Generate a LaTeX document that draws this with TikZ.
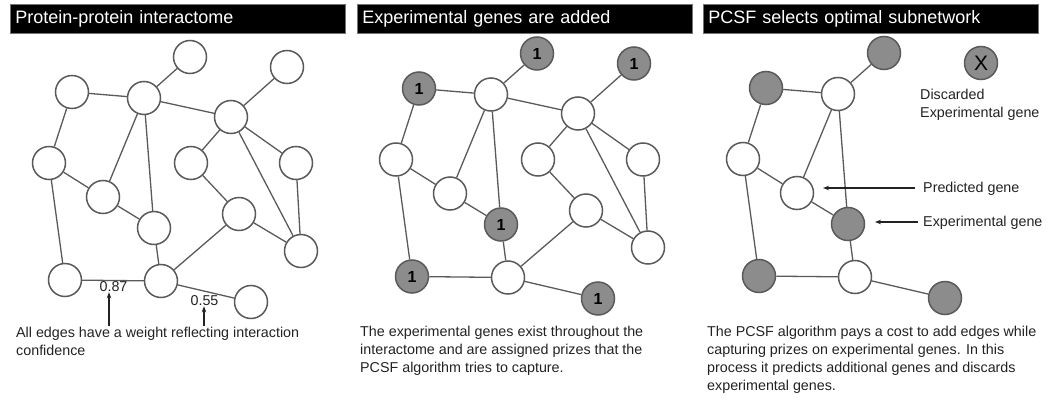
\documentclass[tikz,border=0pt]{standalone}
\usepackage{fontspec}
\setmainfont{Liberation Sans}
\usetikzlibrary{arrows.meta}
\definecolor{edgecol}{HTML}{5A5A5A}
\definecolor{genegray}{HTML}{8C8C8C}
\definecolor{inkcol}{HTML}{222222}
\tikzset{
  gene/.style={circle, draw=edgecol, line width=1.5pt, fill=white, minimum size=33pt, inner sep=0pt},
  expgene/.style={gene, fill=genegray, text=black, font=\bfseries\fontsize{16}{16}\selectfont},
  link/.style={draw=edgecol, line width=1.3pt},
  titlebar/.style={fill=black, draw=black!55, line width=0.6pt, anchor=north west,
    minimum width=335pt, minimum height=29pt, text width=325pt, inner xsep=5pt,
    align=left, text=white, font=\fontsize{18}{20}\selectfont},
  caption/.style={anchor=north west, align=left, inner sep=0pt, text=inkcol,
    font=\fontsize{14.3}{18}\selectfont},
  label/.style={inner sep=0pt, text=inkcol, font=\fontsize{14.3}{16}\selectfont},
  pointer/.style={draw=inkcol, line width=1.3pt, -{Stealth[length=6pt,width=4.5pt]}}
}
\begin{document}
\begin{tikzpicture}[x=1pt,y=-1pt]
\useasboundingbox (0,0) rectangle (1048,401);

% ---------- Panel 1: the full interactome ----------
\node[titlebar] (t1) at (10,4) {Protein-protein interactome};
\begin{scope}
  \foreach \n/\x/\y in {A/190/57,B/72/92,C/144/98,D/287/67,E/231/117,F/49/163,G/191/163,
      H/296/163,I/103/197,J/154/228,K/239/214,L/301/251,M/65/280,N/161/281,O/251/302}
    \node[gene] (p1\n) at (\x,\y) {};
  \foreach \a/\b in {A/C,B/C,C/E,D/E,B/F,C/I,C/J,F/I,F/M,I/J,J/N,M/N,N/K,N/O,E/G,E/L,E/H,G/K,K/L,H/L}
    \draw[link] (p1\a) -- (p1\b);
\end{scope}
\node[label] (w1) at (113.5,287) {0.87};
\node[label] (w2) at (204.5,301) {0.55};
\coordinate (w1s) at (109,326);
\coordinate (w2s) at (204,326);
\draw[pointer] (w1s) -- (w1s |- w1.south);
\draw[pointer] (w2s) -- (w2s |- w2.south);
\node[caption] (c1) at (16,327) {All edges have a weight reflecting interaction\\confidence};

% ---------- Panel 2: experimental genes carry prizes ----------
\node[titlebar] (t2) at (357,4) {Experimental genes are added};
\begin{scope}[shift={(347,-3.5)}]
  \foreach \n/\x/\y in {C/144/98,E/231/117,F/49/163,G/191/163,
      H/296/163,I/103/197,K/239/214,L/301/251,N/161/281}
    \node[gene] (p2\n) at (\x,\y) {};
  \foreach \n/\x/\y in {A/190/57,B/72/92,D/287/67,J/154/228,M/65/280,O/251/302}
    \node[expgene] (p2\n) at (\x,\y) {1};
  \foreach \a/\b in {A/C,B/C,C/E,D/E,B/F,C/I,C/J,F/I,F/M,I/J,J/N,M/N,N/K,N/O,E/G,E/L,E/H,G/K,K/L,H/L}
    \draw[link] (p2\a) -- (p2\b);
\end{scope}
\node[caption] (c2) at (360,326) {The experimental genes exist throughout the\\interactome and are assigned prizes that the\\PCSF algorithm tries to capture.};

% ---------- Panel 3: the selected subnetwork ----------
\node[titlebar] (t3) at (703,4) {PCSF selects optimal subnetwork};
\begin{scope}[shift={(694,-4)}]
  \foreach \n/\x/\y in {C/144/98,F/49/163,I/103/197,N/161/281}
    \node[gene] (p3\n) at (\x,\y) {};
  \foreach \n/\x/\y in {A/190/57,B/72/92,J/154/228,M/65/280,O/251/302}
    \node[gene, fill=genegray] (p3\n) at (\x,\y) {};
  \node[gene, fill=genegray, font=\fontsize{21}{21}\selectfont] (p3D) at (287,67) {X};
  \foreach \a/\b in {A/C,B/C,B/F,C/I,C/J,F/I,F/M,I/J,J/N,M/N,N/O}
    \draw[link] (p3\a) -- (p3\b);
\end{scope}
\node[caption] (dl) at (920,89) {Discarded\\Experimental gene};
\node[label, anchor=base west] (pl) at (923,192) {Predicted gene};
\node[label, anchor=base west] (el) at (923,226) {Experimental gene};
\coordinate (pls) at (915,188);
\coordinate (els) at (918,222);
\draw[pointer] (pls) -- (823,188);
\draw[pointer] (els) -- (875,222);
\node[caption] (c3) at (707,326) {The PCSF algorithm pays a cost to add edges while\\capturing prizes on experimental genes. In this\\process it predicts additional genes and discards\\experimental genes.};
\end{tikzpicture}
\end{document}
